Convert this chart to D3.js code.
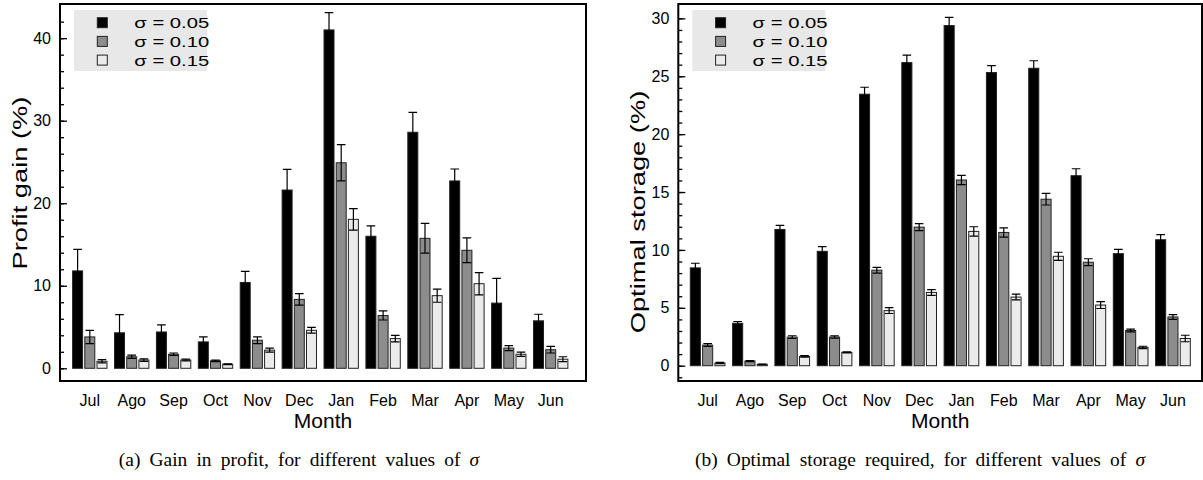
<!DOCTYPE html>
<html>
<head>
<meta charset="utf-8">
<script src="https://cdn.jsdelivr.net/npm/d3@7"></script>
<style>
  body { margin: 0; background: #fff; }
  svg { display: block; font-family: "Liberation Sans", Arial, sans-serif; }
  .axis path { display: none; }
  .axis line { stroke: #000; stroke-width: 1.3; }
  .axis text { font-size: 16px; fill: #000; }
  .frame { fill: none; stroke: #000; stroke-width: 2; }
  .bar { stroke: #222; stroke-width: 1; }
  .err { stroke: #000; stroke-width: 1.2; fill: none; }
  .legend-bg { fill: #e8e8e8; }
  .legend text { font-size: 15px; }
  .caption { font-family: "Liberation Serif", "Times New Roman", serif; font-size: 18px; word-spacing: 4px; }
</style>
</head>
<body>
<svg id="chart" width="1203" height="480"></svg>
<script>
const months = ['Jul', 'Ago', 'Sep', 'Oct', 'Nov', 'Dec', 'Jan', 'Feb', 'Mar', 'Apr', 'May', 'Jun'];
const sigmas = ['σ = 0.05', 'σ = 0.10', 'σ = 0.15'];
const fills = ['#000000', '#8c8c8c', '#ebebeb'];

// (a) profit gain (%), mean and error per sigma
const profit05 = [11.8, 4.3, 4.4, 3.2, 10.4, 21.6, 41.0, 16.0, 28.6, 22.7, 7.9, 5.75];
const profitErr05 = [2.6, 2.2, 0.85, 0.6, 1.35, 2.5, 2.1, 1.25, 2.4, 1.45, 3.0, 0.8];
const profit10 = [3.8, 1.4, 1.7, 0.9, 3.4, 8.35, 24.9, 6.4, 15.75, 14.3, 2.45, 2.25];
const profitErr10 = [0.8, 0.2, 0.15, 0.1, 0.4, 0.7, 2.2, 0.55, 1.8, 1.5, 0.3, 0.4];
const profit15 = [0.85, 1.0, 1.0, 0.5, 2.2, 4.6, 18.05, 3.6, 8.8, 10.25, 1.7, 1.1];
const profitErr15 = [0.2, 0.15, 0.1, 0.05, 0.25, 0.35, 1.3, 0.4, 0.8, 1.35, 0.25, 0.3];
const profitTicks = [0, 10, 20, 30, 40];

// (b) optimal storage (%)
const storage05 = [8.45, 3.67, 11.77, 9.88, 23.45, 26.18, 29.38, 25.32, 25.69, 16.41, 9.68, 10.88];
const storageErr05 = [0.4, 0.15, 0.35, 0.4, 0.6, 0.65, 0.7, 0.6, 0.65, 0.6, 0.37, 0.45];
const storage10 = [1.78, 0.4, 2.47, 2.47, 8.25, 11.97, 16.04, 11.51, 14.38, 8.94, 3.04, 4.21];
const storageErr10 = [0.12, 0.05, 0.12, 0.1, 0.25, 0.3, 0.4, 0.4, 0.5, 0.3, 0.12, 0.2];
const storage15 = [0.23, 0.12, 0.8, 1.15, 4.76, 6.33, 11.6, 5.93, 9.45, 5.24, 1.58, 2.35];
const storageErr15 = [0.05, 0.03, 0.07, 0.05, 0.25, 0.25, 0.4, 0.25, 0.35, 0.3, 0.1, 0.28];
const storageTicks = [0, 5, 10, 15, 20, 25, 30];

const svg = d3.select('#chart');

function drawPanel(p) {
  const g = svg.append('g');

  const x = d3.scaleBand().domain(months).range(p.xRange).paddingInner(0.18).paddingOuter(0.09);
  const xs = d3.scaleBand().domain([0, 1, 2]).range([0, x.bandwidth()]).paddingInner(0.18);
  const y = d3.scaleLinear().domain(p.yDomain).range([p.bottom, p.top]);

  const rows = [];
  p.series.forEach((s, si) => {
    months.forEach((m, i) => rows.push({ m, si, v: s.values[i], e: s.errs[i] }));
  });

  g.selectAll('.bar')
      .data(rows)
    .enter().append('rect')
      .attr('class', 'bar')
      .attr('x', d => x(d.m) + xs(d.si))
      .attr('y', d => y(d.v))
      .attr('width', xs.bandwidth())
      .attr('height', d => y(0) - y(d.v))
      .attr('fill', d => fills[d.si]);

  // error bars (symmetric)
  const cap = 4.3;
  g.selectAll('.err')
      .data(rows)
    .enter().append('path')
      .attr('class', 'err')
      .attr('d', d => {
        const cx = x(d.m) + xs(d.si) + xs.bandwidth() / 2;
        const y1 = y(d.v + d.e), y2 = y(Math.max(0, d.v - d.e));
        return `M${cx},${y1}V${y2}M${cx - cap},${y1}H${cx + cap}M${cx - cap},${y2}H${cx + cap}`;
      });

  // axes
  g.append('g')
      .attr('class', 'axis')
      .attr('transform', `translate(${p.left},0)`)
      .call(d3.axisLeft(y).tickValues(p.minor).tickSize(-4).tickFormat(''));

  g.append('g')
      .attr('class', 'axis')
      .attr('transform', `translate(${p.left},0)`)
      .call(d3.axisLeft(y).tickValues(p.ticks).tickSize(-7).tickPadding(9).tickFormat(d3.format('d')));

  g.append('g')
      .attr('class', 'axis')
      .attr('transform', `translate(0,${p.bottom})`)
      .call(d3.axisBottom(x).tickSize(0).tickPadding(14));

  g.append('rect')
      .attr('class', 'frame')
      .attr('x', p.left)
      .attr('y', p.top)
      .attr('width', p.right - p.left)
      .attr('height', p.bottom - p.top);

  g.append('text')
      .attr('x', (p.left + p.right) / 2)
      .attr('y', 428)
      .attr('text-anchor', 'middle')
      .style('font-size', '21px')
      .text('Month');

  g.append('text')
      .attr('transform', `translate(${p.titleX},${p.titleY}) rotate(-90) scale(1.3,1)`)
      .attr('text-anchor', 'middle')
      .style('font-size', '21px')
      .text(p.title);

  // legend
  const lg = g.append('g').attr('class', 'legend').attr('transform', `translate(${p.left + 14},10)`);
  lg.append('rect').attr('class', 'legend-bg').attr('width', 133).attr('height', 61);
  sigmas.forEach((s, i) => {
    const cy = 12.7 + i * 18.7;
    lg.append('rect')
        .attr('x', 23.3).attr('y', cy - 5)
        .attr('width', 10).attr('height', 10)
        .attr('fill', fills[i])
        .attr('stroke', '#222');
    lg.append('text')
        .attr('transform', `translate(60.3,${cy + 5.5}) scale(1.35,1)`)
        .text(s);
  });

  const caption = svg.append('text')
      .attr('class', 'caption')
      .attr('transform', `translate(${p.capX},466) scale(1.08,1)`)
      .attr('text-anchor', 'middle');
  caption.append('tspan').text(p.caption);
  caption.append('tspan').style('font-style', 'italic').text('σ');
}

drawPanel({
  left: 60, right: 586, top: 4, bottom: 381,
  xRange: [68.85, 571.65],
  yDomain: [-1.54, 44.14],
  ticks: profitTicks,
  minor: d3.range(0, 44, 2),
  series: [
    { values: profit05, errs: profitErr05 },
    { values: profit10, errs: profitErr10 },
    { values: profit15, errs: profitErr15 }
  ],
  title: 'Profit gain (%)', titleX: 27, titleY: 183,
  caption: '(a) Gain in profit, for different values of ', capX: 299
});

drawPanel({
  left: 678.3, right: 1202, top: 4, bottom: 381,
  xRange: [686.5, 1194.1],
  yDomain: [-1.32, 31.24],
  ticks: storageTicks,
  minor: d3.range(-1, 31, 1),
  series: [
    { values: storage05, errs: storageErr05 },
    { values: storage10, errs: storageErr10 },
    { values: storage15, errs: storageErr15 }
  ],
  title: 'Optimal storage (%)', titleX: 645, titleY: 212,
  caption: '(b) Optimal storage required, for different values of ', capX: 920
});
</script>
</body>
</html>
